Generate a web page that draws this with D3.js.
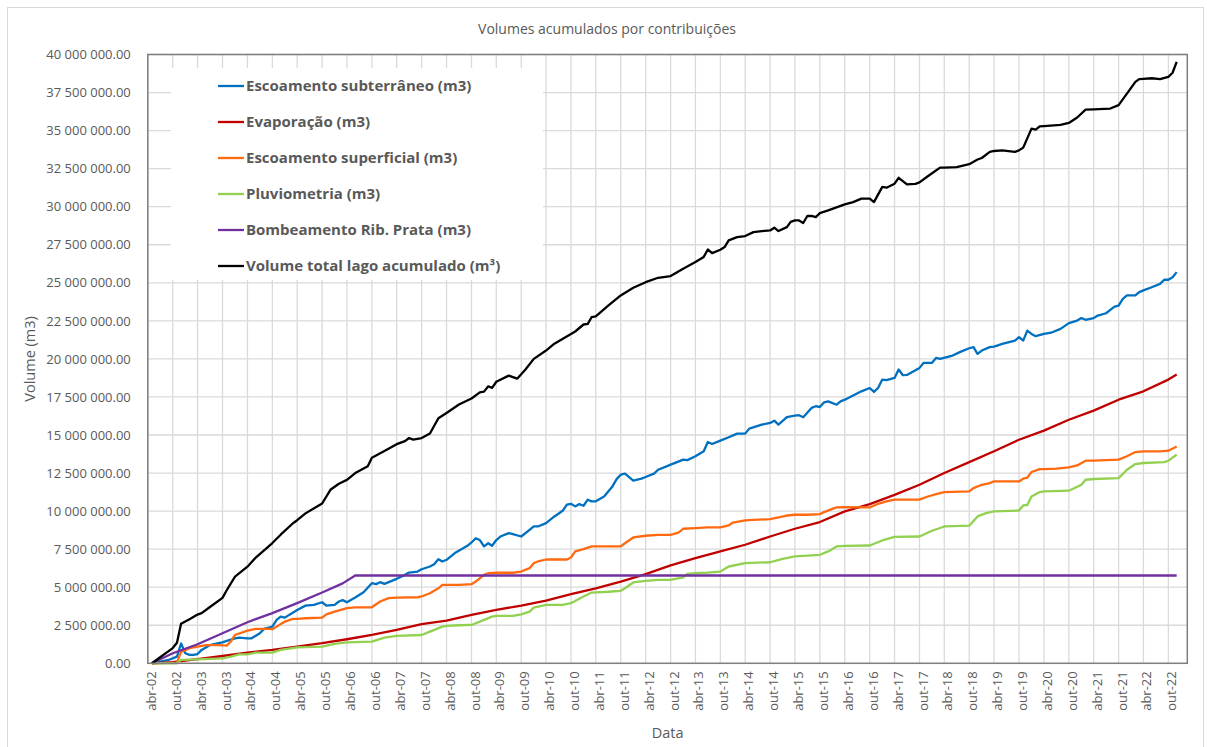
<!DOCTYPE html>
<html>
<head>
<meta charset="utf-8">
<script src="https://cdn.jsdelivr.net/npm/d3@7"></script>
<style>
  body { margin: 0; background: #fff; }
  text { font-family: "Open Sans", sans-serif; fill: #595959; }
</style>
</head>
<body>
<svg width="1207" height="747"></svg>
<script>
// accumulated volumes, [month, millions of m3]
var escSubterraneo = [
  ["2002-05",0],["2002-09",0.22],["2002-11",0.44],["2002-12",1.3],["2003-01",0.66],["2003-02",0.55],["2003-03",0.55],
  ["2003-04",0.61],["2003-05",0.88],["2003-07",1.2],["2003-09",1.32],["2003-10",1.38],["2003-11",1.47],["2004-01",1.64],
  ["2004-02",1.69],["2004-04",1.64],["2004-05",1.64],["2004-07",1.97],["2004-08",2.26],["2004-10",2.41],["2004-11",2.85],
  ["2004-12",3.07],["2005-01",3.0],["2005-02",3.18],["2005-04",3.5],["2005-06",3.79],["2005-08",3.84],["2005-10",4.01],
  ["2005-11",3.79],["2006-01",3.84],["2006-02",4.06],["2006-03",4.15],["2006-04",4.01],["2006-06",4.32],["2006-08",4.67],
  ["2006-10",5.26],["2006-11",5.2],["2006-12",5.33],["2007-01",5.22],["2007-04",5.55],["2007-06",5.81],["2007-07",5.96],
  ["2007-09",6.03],["2007-10",6.18],["2007-12",6.36],["2008-01",6.51],["2008-02",6.84],["2008-03",6.69],["2008-04",6.8],
  ["2008-06",7.24],["2008-09",7.72],["2008-10",7.94],["2008-11",8.22],["2008-12",8.1],["2009-01",7.68],["2009-02",7.89],
  ["2009-03",7.72],["2009-04",8.1],["2009-05",8.33],["2009-07",8.55],["2009-08",8.49],["2009-10",8.33],["2009-12",8.77],
  ["2010-01",8.99],["2010-02",8.99],["2010-04",9.21],["2010-06",9.65],["2010-08",10.02],["2010-09",10.42],["2010-10",10.48],
  ["2010-11",10.31],["2010-12",10.46],["2011-01",10.35],["2011-02",10.75],["2011-03",10.64],["2011-04",10.64],["2011-06",10.96],
  ["2011-08",11.62],["2011-09",12.1],["2011-10",12.39],["2011-11",12.46],["2012-01",12.0],["2012-03",12.13],["2012-04",12.24],
  ["2012-06",12.46],["2012-07",12.72],["2012-09",12.94],["2012-10",13.05],["2012-12",13.27],["2013-01",13.38],["2013-02",13.35],
  ["2013-04",13.6],["2013-06",13.93],["2013-07",14.54],["2013-08",14.41],["2013-10",14.63],["2013-12",14.85],["2014-02",15.09],
  ["2014-04",15.09],["2014-05",15.42],["2014-08",15.68],["2014-10",15.79],["2014-11",15.94],["2014-12",15.68],["2015-02",16.18],
  ["2015-04",16.27],["2015-05",16.3],["2015-06",16.16],["2015-08",16.78],["2015-09",16.89],["2015-10",16.84],["2015-11",17.15],
  ["2015-12",17.21],["2016-02",16.99],["2016-03",17.21],["2016-04",17.32],["2016-06",17.6],["2016-08",17.87],["2016-10",18.09],
  ["2016-11",17.83],["2016-12",18.09],["2017-01",18.64],["2017-02",18.6],["2017-04",18.75],["2017-05",19.3],["2017-06",18.93],
  ["2017-07",18.95],["2017-10",19.41],["2017-11",19.74],["2018-01",19.74],["2018-02",20.07],["2018-03",20.0],["2018-06",20.22],
  ["2018-08",20.48],["2018-10",20.7],["2018-11",20.77],["2018-12",20.33],["2019-01",20.55],["2019-03",20.77],["2019-04",20.81],
  ["2019-06",20.99],["2019-09",21.2],["2019-10",21.43],["2019-11",21.2],["2019-12",21.86],["2020-01",21.64],["2020-02",21.49],
  ["2020-04",21.64],["2020-06",21.75],["2020-08",21.97],["2020-10",22.35],["2020-12",22.52],["2021-01",22.68],["2021-02",22.57],
  ["2021-04",22.68],["2021-05",22.85],["2021-07",23.0],["2021-08",23.22],["2021-09",23.44],["2021-10",23.5],["2021-11",23.95],
  ["2021-12",24.17],["2022-02",24.17],["2022-03",24.39],["2022-04",24.5],["2022-06",24.71],["2022-08",24.93],["2022-09",25.2],
  ["2022-10",25.2],["2022-11",25.37],["2022-12",25.7]
];

var evaporacao = [
  ["2002-05",0],["2002-10",0.08],["2003-04",0.28],["2003-10",0.48],["2004-04",0.7],["2004-10",0.88],["2005-04",1.1],
  ["2005-10",1.32],["2006-04",1.58],["2006-10",1.86],["2007-04",2.19],["2007-10",2.57],["2008-04",2.81],["2008-10",3.18],
  ["2009-04",3.51],["2009-10",3.79],["2010-04",4.12],["2010-10",4.54],["2011-04",4.93],["2011-10",5.37],["2012-04",5.86],
  ["2012-10",6.43],["2013-04",6.91],["2013-10",7.35],["2014-04",7.79],["2014-10",8.33],["2015-04",8.84],["2015-10",9.28],
  ["2016-04",9.98],["2016-10",10.46],["2017-04",11.07],["2017-10",11.73],["2018-04",12.5],["2018-10",13.22],["2019-04",13.93],
  ["2019-10",14.69],["2020-04",15.29],["2020-10",16.0],["2021-04",16.6],["2021-10",17.32],["2022-04",17.87],["2022-10",18.64],
  ["2022-12",18.97]
];

var escSuperficial = [
  ["2002-05",0],["2002-11",0.05],["2002-12",0.75],["2003-02",0.99],["2003-04",1.1],["2003-06",1.2],["2003-09",1.2],
  ["2003-11",1.16],["2003-12",1.43],["2004-01",1.86],["2004-04",2.15],["2004-06",2.26],["2004-09",2.26],["2004-10",2.24],
  ["2004-11",2.41],["2005-01",2.74],["2005-03",2.92],["2005-04",2.92],["2005-06",2.96],["2005-10",3.0],["2005-11",3.22],
  ["2006-01",3.4],["2006-04",3.62],["2006-06",3.68],["2006-10",3.68],["2006-12",4.06],["2007-02",4.28],["2007-04",4.32],
  ["2007-09",4.34],["2007-10",4.39],["2007-12",4.6],["2008-02",4.93],["2008-03",5.15],["2008-04",5.15],["2008-07",5.15],
  ["2008-10",5.2],["2008-11",5.37],["2009-01",5.81],["2009-02",5.92],["2009-04",5.95],["2009-08",5.95],["2009-10",6.03],
  ["2009-12",6.25],["2010-01",6.58],["2010-02",6.69],["2010-04",6.82],["2010-09",6.82],["2010-10",6.95],["2010-11",7.35],
  ["2011-01",7.5],["2011-03",7.68],["2011-10",7.68],["2011-11",7.89],["2012-01",8.27],["2012-04",8.38],["2012-07",8.44],
  ["2012-10",8.44],["2012-12",8.6],["2013-01",8.84],["2013-04",8.88],["2013-07",8.93],["2013-10",8.93],["2013-12",9.06],
  ["2014-01",9.25],["2014-04",9.39],["2014-06",9.42],["2014-10",9.47],["2014-12",9.58],["2015-02",9.71],["2015-04",9.76],
  ["2015-07",9.76],["2015-10",9.8],["2015-11",9.93],["2016-01",10.15],["2016-02",10.24],["2016-04",10.26],["2016-10",10.24],
  ["2016-12",10.48],["2017-02",10.64],["2017-04",10.75],["2017-10",10.75],["2017-12",10.96],["2018-02",11.12],["2018-04",11.25],
  ["2018-10",11.29],["2018-11",11.51],["2019-01",11.73],["2019-03",11.84],["2019-04",11.95],["2019-10",11.95],["2019-11",12.13],
  ["2019-12",12.2],["2020-01",12.57],["2020-03",12.76],["2020-04",12.76],["2020-07",12.79],["2020-10",12.87],["2020-12",13.0],
  ["2021-02",13.31],["2021-04",13.31],["2021-10",13.38],["2021-12",13.6],["2022-02",13.88],["2022-04",13.93],["2022-08",13.93],
  ["2022-10",13.97],["2022-12",14.25]
];

var pluviometria = [
  ["2002-05",0],["2002-11",0],["2002-12",0.22],["2003-04",0.26],["2003-10",0.33],["2003-12",0.44],["2004-02",0.59],
  ["2004-04",0.59],["2004-06",0.7],["2004-10",0.7],["2004-12",0.88],["2005-04",1.05],["2005-10",1.1],["2006-01",1.27],
  ["2006-04",1.38],["2006-10",1.43],["2007-01",1.69],["2007-04",1.8],["2007-10",1.86],["2007-12",2.08],["2008-03",2.41],
  ["2008-04",2.46],["2008-07",2.5],["2008-10",2.52],["2009-01",2.85],["2009-03",3.07],["2009-04",3.11],["2009-08",3.11],
  ["2009-10",3.22],["2009-12",3.4],["2010-01",3.66],["2010-04",3.84],["2010-08",3.84],["2010-10",3.95],["2011-01",4.39],
  ["2011-03",4.65],["2011-07",4.7],["2011-10",4.76],["2011-11",4.93],["2012-01",5.31],["2012-04",5.42],["2012-07",5.48],
  ["2012-10",5.48],["2013-01",5.64],["2013-02",5.88],["2013-04",5.92],["2013-07",5.96],["2013-10",6.03],["2013-12",6.36],
  ["2014-04",6.58],["2014-10",6.64],["2015-01",6.86],["2015-04",7.02],["2015-07",7.08],["2015-10",7.13],["2015-12",7.35],
  ["2016-02",7.68],["2016-04",7.72],["2016-10",7.74],["2017-01",8.07],["2017-04",8.31],["2017-10",8.33],["2018-01",8.71],
  ["2018-04",8.99],["2018-10",9.04],["2018-12",9.65],["2019-02",9.87],["2019-04",9.98],["2019-10",10.04],["2019-11",10.37],
  ["2019-12",10.4],["2020-01",10.96],["2020-03",11.25],["2020-04",11.29],["2020-10",11.34],["2021-01",11.73],["2021-02",12.06],
  ["2021-04",12.11],["2021-10",12.17],["2021-12",12.72],["2022-02",13.09],["2022-04",13.16],["2022-09",13.22],["2022-10",13.31],
  ["2022-12",13.71]
];

var bombeamento = [
  ["2002-05",0],["2002-10",0.66],["2003-04",1.25],["2003-10",1.97],["2004-04",2.7],["2004-10",3.3],["2005-04",3.95],
  ["2005-10",4.65],["2006-03",5.25],["2006-06",5.77],["2022-12",5.77]
];

var volumeTotal = [
  ["2002-05",0],["2002-06",0.2],["2002-07",0.4],["2002-08",0.6],["2002-09",0.8],["2002-10",1.0],["2002-11",1.35],
  ["2002-12",2.6],["2003-02",2.9],["2003-04",3.2],["2003-05",3.3],["2003-07",3.7],["2003-10",4.3],["2003-11",4.8],
  ["2004-01",5.7],["2004-04",6.35],["2004-06",6.95],["2004-10",7.9],["2004-12",8.45],["2005-03",9.2],["2005-04",9.4],
  ["2005-06",9.85],["2005-10",10.5],["2005-12",11.4],["2006-02",11.8],["2006-04",12.05],["2006-06",12.5],["2006-09",12.95],
  ["2006-10",13.5],["2007-01",13.95],["2007-04",14.4],["2007-06",14.6],["2007-07",14.8],["2007-08",14.7],["2007-10",14.8],
  ["2007-12",15.1],["2008-02",16.1],["2008-04",16.45],["2008-07",17.0],["2008-10",17.4],["2008-12",17.8],["2009-01",17.85],
  ["2009-02",18.2],["2009-03",18.1],["2009-04",18.5],["2009-07",18.9],["2009-09",18.7],["2009-11",19.3],["2010-01",20.0],
  ["2010-04",20.55],["2010-06",21.0],["2010-10",21.64],["2010-11",21.8],["2011-01",22.26],["2011-02",22.3],["2011-03",22.74],
  ["2011-04",22.8],["2011-07",23.5],["2011-10",24.17],["2012-01",24.67],["2012-04",25.04],["2012-07",25.33],["2012-10",25.44],
  ["2013-01",25.92],["2013-04",26.36],["2013-06",26.7],["2013-07",27.19],["2013-08",26.95],["2013-10",27.17],["2013-11",27.35],
  ["2013-12",27.79],["2014-02",28.0],["2014-04",28.07],["2014-06",28.33],["2014-08",28.4],["2014-10",28.44],["2014-11",28.62],
  ["2014-12",28.4],["2015-02",28.66],["2015-03",29.0],["2015-04",29.1],["2015-05",29.1],["2015-06",28.93],["2015-07",29.39],
  ["2015-08",29.4],["2015-09",29.32],["2015-10",29.58],["2015-12",29.76],["2016-04",30.15],["2016-06",30.3],["2016-08",30.53],
  ["2016-10",30.53],["2016-11",30.3],["2017-01",31.3],["2017-02",31.25],["2017-04",31.51],["2017-05",31.9],["2017-07",31.47],
  ["2017-09",31.5],["2017-10",31.6],["2017-12",32.0],["2018-03",32.57],["2018-04",32.57],["2018-07",32.6],["2018-10",32.79],
  ["2018-12",33.1],["2019-01",33.2],["2019-03",33.6],["2019-04",33.66],["2019-06",33.7],["2019-09",33.6],["2019-10",33.7],
  ["2019-11",33.88],["2020-01",35.13],["2020-02",35.07],["2020-03",35.28],["2020-04",35.3],["2020-08",35.37],["2020-10",35.5],
  ["2020-12",35.86],["2021-02",36.38],["2021-04",36.4],["2021-08",36.45],["2021-10",36.67],["2021-12",37.43],["2022-02",38.2],
  ["2022-03",38.38],["2022-04",38.4],["2022-06",38.44],["2022-08",38.38],["2022-10",38.53],["2022-11",38.8],["2022-12",39.52]
];

var seriesNames = [
  "Escoamento subterrâneo (m3)", "Evaporação (m3)", "Escoamento superficial (m3)",
  "Pluviometria (m3)", "Bombeamento Rib. Prata (m3)", "Volume total lago acumulado (m³)"
];
var mesesCurtos = ["jan","fev","mar","abr","mai","jun","jul","ago","set","out","nov","dez"];
var yTicks = [0, 2.5e6, 5e6, 7.5e6, 10e6, 12.5e6, 15e6, 17.5e6, 20e6, 22.5e6, 25e6, 27.5e6, 30e6, 32.5e6, 35e6, 37.5e6, 40e6];

var seriesData = [escSubterraneo, evaporacao, escSuperficial, pluviometria, bombeamento, volumeTotal];
var colors = ["#0070c0", "#c00000", "#ff6a10", "#92d050", "#7030a0", "#000000"];

var svg = d3.select("svg");
var pLeft = 147.8, pTop = 54.5, pRight = 1187.3, pBottom = 663.3;

var parseMonth = d3.timeParse("%Y-%m");
var ptLocale = d3.timeFormatLocale({
  dateTime: "%d/%m/%Y %H:%M:%S", date: "%d/%m/%Y", time: "%H:%M:%S", periods: ["AM", "PM"],
  days: ["domingo","segunda","terça","quarta","quinta","sexta","sábado"],
  shortDays: ["dom","seg","ter","qua","qui","sex","sáb"],
  months: ["janeiro","fevereiro","março","abril","maio","junho","julho","agosto","setembro","outubro","novembro","dezembro"],
  shortMonths: mesesCurtos
});

var xScale = d3.scaleTime()
  .domain([new Date(2002, 3, 1), new Date(2023, 1, 17)])
  .range([pLeft, pRight]);
var yScale = d3.scaleLinear().domain([0, 40e6]).range([pBottom, pTop]);

var xTicks = d3.timeMonth.range(new Date(2002, 3, 1), new Date(2022, 10, 1), 6);

// chart frame
svg.append("rect")
  .attr("x", 7.5).attr("y", 7.5).attr("width", 1196).attr("height", 740)
  .attr("fill", "#fff").attr("stroke", "#d9d9d9");

svg.append("text")
  .attr("x", 607).attr("y", 34)
  .attr("text-anchor", "middle")
  .attr("font-size", "14px")
  .text("Volumes acumulados por contribuições");

// gridlines
var grid = svg.append("g");
grid.selectAll(".hg").data(yTicks).enter().append("line")
  .attr("x1", pLeft).attr("x2", pRight)
  .attr("y1", function(d) { return yScale(d); })
  .attr("y2", function(d) { return yScale(d); })
  .attr("stroke", "#dadada").attr("stroke-width", 1.3);
grid.selectAll(".vg").data(xTicks).enter().append("line")
  .attr("x1", function(d) { return xScale(d); })
  .attr("x2", function(d) { return xScale(d); })
  .attr("y1", pTop).attr("y2", pBottom)
  .attr("stroke", "#dadada").attr("stroke-width", 1.3);

// axes
var fmt = d3.format(",.2f");
var yAxis = svg.append("g")
  .attr("transform", "translate(" + (pLeft - 14) + ",0)")
  .call(d3.axisLeft(yScale).tickValues(yTicks).tickSize(0)
    .tickFormat(function(d) { return fmt(d).replace(/,/g, " "); }));
yAxis.select(".domain").remove();
yAxis.selectAll("text").attr("font-size", "13px").attr("fill", "#595959")
  .attr("font-family", "Open Sans, sans-serif");

var xFmt = ptLocale.format("%b-%y");
var xAxis = svg.append("g")
  .attr("transform", "translate(0," + pBottom + ")")
  .call(d3.axisBottom(xScale).tickValues(xTicks).tickSize(0).tickFormat(xFmt));
xAxis.select(".domain").remove();
xAxis.selectAll("text")
  .attr("font-size", "13px").attr("fill", "#595959")
  .attr("font-family", "Open Sans, sans-serif")
  .attr("text-anchor", "end")
  .attr("transform", "translate(3,0) rotate(-90)")
  .attr("x", -8).attr("y", 0).attr("dy", "0.35em");

svg.append("text")
  .attr("transform", "translate(35," + ((pTop + pBottom) / 2) + ") rotate(-90)")
  .attr("text-anchor", "middle")
  .attr("font-size", "14.5px")
  .text("Volume (m3)");

svg.append("text")
  .attr("x", (pLeft + pRight) / 2).attr("y", 738)
  .attr("text-anchor", "middle")
  .attr("font-size", "14.5px")
  .text("Data");

// lines
var line = d3.line()
  .x(function(d) { return xScale(parseMonth(d[0])); })
  .y(function(d) { return yScale(d[1] * 1e6); });

svg.selectAll(".serie").data(seriesData).enter().append("path")
  .attr("d", line)
  .attr("fill", "none")
  .attr("stroke", function(d, i) { return colors[i]; })
  .attr("stroke-width", 2.3)
  .attr("stroke-linejoin", "round");

// plot border
svg.append("rect")
  .attr("x", pLeft).attr("y", pTop).attr("width", pRight - pLeft).attr("height", pBottom - pTop)
  .attr("fill", "none").attr("stroke", "#7f7f7f").attr("stroke-width", 1.5);

// legend
var legend = svg.append("g");
legend.append("rect")
  .attr("x", 171).attr("y", 68).attr("width", 372).attr("height", 212)
  .attr("fill", "#fff");
var items = legend.selectAll(".item").data(seriesNames).enter().append("g")
  .attr("transform", function(d, i) { return "translate(218," + (86 + i * 36) + ")"; });
items.append("line")
  .attr("x1", 0).attr("x2", 26)
  .attr("stroke", function(d, i) { return colors[i]; })
  .attr("stroke-width", 2.3);
items.append("text")
  .attr("x", 28).attr("dy", "0.35em")
  .attr("font-size", "15px").attr("font-weight", "bold")
  .text(function(d) { return d; });
</script>
</body>
</html>
